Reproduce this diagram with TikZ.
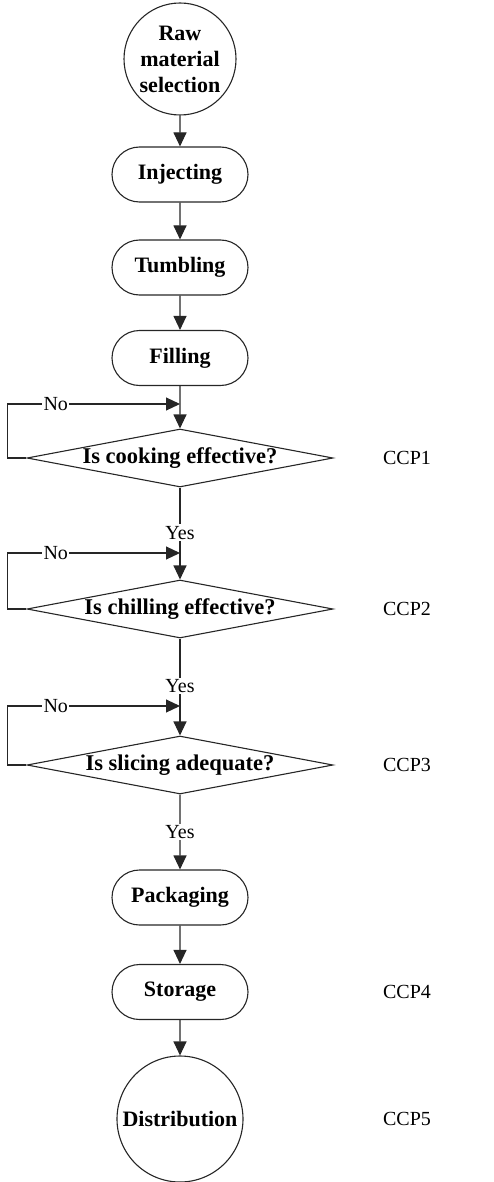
\documentclass[tikz,border=0pt]{standalone}
\usepackage{fontspec}
\setmainfont{Liberation Serif}
\usetikzlibrary{shapes.misc,shapes.geometric,arrows.meta}
\begin{document}
\begin{tikzpicture}[x=1pt,y=-1pt,
  every node/.style={font=\fontsize{20}{25}\selectfont},
  conn/.style={line width=1.1pt,draw=black!85},
  arr/.style={conn,-{Triangle[length=14pt,width=13pt]}},
  stepbox/.style={rounded rectangle,draw=black!85,line width=1.1pt,minimum width=136pt,minimum height=55pt,inner sep=0pt,font=\fontsize{22}{26}\selectfont\bfseries},
  endcircle/.style={circle,draw=black!85,line width=1.1pt,inner sep=0pt,align=center,font=\fontsize{22}{26}\selectfont\bfseries},
  decision/.style={diamond,draw=black!85,line width=1.1pt,minimum width=306pt,minimum height=58pt,inner sep=0pt},
  dtext/.style={font=\fontsize{22.5}{26}\selectfont\bfseries},
  lbl/.style={fill=white,inner sep=1.5pt,font=\fontsize{20}{24}\selectfont},
  ccp/.style={font=\fontsize{20}{24}\selectfont}]
\useasboundingbox (0,0) rectangle (494,1182);
\node[endcircle,minimum size=112pt] (raw) at (180,59) {Raw\\material\\selection};
\node[stepbox] (inj) at (180,174.5) {Injecting};
\node[stepbox] (tum) at (180,267.5) {Tumbling};
\node[stepbox] (fil) at (180,358) {Filling};
\node[decision] (d1) at (180,458) {};
\node[dtext] at (d1) {Is cooking effective?};
\node[decision] (d2) at (180,609) {};
\node[dtext] at (d2) {Is chilling effective?};
\node[decision] (d3) at (180,765) {};
\node[dtext] at (d3) {Is slicing adequate?};
\node[stepbox] (pac) at (180,897.5) {Packaging};
\node[stepbox] (sto) at (180,992) {Storage};
\node[endcircle,minimum size=126pt] (dis) at (180,1119) {Distribution};
\node[ccp] (c1) at (407,458) {CCP1};
\node[ccp] (c2) at (407,609) {CCP2};
\node[ccp] (c3) at (407,765) {CCP3};
\node[ccp] (c4) at (407,992) {CCP4};
\node[ccp] (c5) at (407,1119) {CCP5};
\coordinate (n1) at (180,404);
\coordinate (n2) at (180,553);
\coordinate (n3) at (180,706);
\draw[arr] (raw) -- (inj);
\draw[arr] (inj) -- (tum);
\draw[arr] (tum) -- (fil);
\draw[arr] (fil) -- (d1);
\draw[arr] (d1) -- node[lbl,pos=0.49] {Yes} (d2);
\draw[arr] (d2) -- node[lbl,pos=0.49] {Yes} (d3);
\draw[arr] (d3) -- node[lbl,pos=0.5] {Yes} (pac);
\draw[arr] (pac) -- (sto);
\draw[arr] (sto) -- (dis);
\draw[arr] (d1.west) -- ++(-19,0) |- node[lbl,pos=0.64] {No} (n1);
\draw[arr] (d2.west) -- ++(-19,0) |- node[lbl,pos=0.64] {No} (n2);
\draw[arr] (d3.west) -- ++(-19,0) |- node[lbl,pos=0.64] {No} (n3);
\end{tikzpicture}
\end{document}
